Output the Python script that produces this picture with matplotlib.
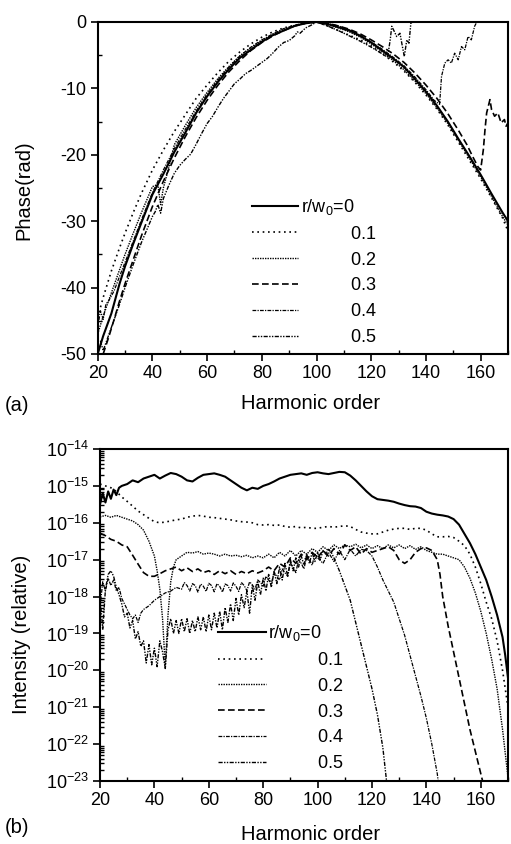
import numpy as np
import matplotlib
matplotlib.use("Agg")
import matplotlib.pyplot as plt
from matplotlib.ticker import MultipleLocator, LogLocator, NullFormatter

plt.rcParams['font.family'] = ['Liberation Sans', 'DejaVu Sans']
plt.rcParams['mathtext.fontset'] = 'custom'
plt.rcParams['mathtext.rm'] = 'Liberation Sans'
plt.rcParams['mathtext.it'] = 'Liberation Sans:italic'
plt.rcParams['mathtext.default'] = 'regular'
plt.rcParams['axes.unicode_minus'] = False

# ---------------- data: panel (a), phase (rad) ----------------
h_a0 = [20, 22, 25, 28, 30, 33, 36, 40, 44, 48, 52, 56, 60, 64, 68, 72, 76, 80, 84, 88, 92, 96, 100,
        104, 108, 112, 116, 120, 124, 128, 132, 136, 140, 144, 148, 152, 156, 160, 164, 168, 170]
ph_a0 = [-50.0, -47.3, -43.9, -39.4, -36.8, -33.4, -30.2, -26.0, -22.9, -19.6, -16.7, -13.7, -11.2, -9.0,
         -7.1, -5.4, -4.2, -3.0, -2.0, -1.3, -0.6, -0.2, 0.0,
         -0.3, -0.8, -1.3, -2.1, -3.1, -4.3, -5.5, -6.8, -8.6, -10.5, -12.6, -15.0, -17.7, -20.3, -23.0,
         -25.9, -28.7, -30.0]

h_a1 = [20, 22, 25, 28, 30, 33, 36, 40, 44, 48, 52, 56, 60, 64, 68, 72, 76, 80, 84, 88, 92, 96, 100,
        104, 108, 112, 116, 120, 124, 128, 132, 136, 140, 144, 148, 152, 156, 160, 164, 168, 170]
ph_a1 = [-44.5, -41.5, -37.5, -34.0, -31.8, -28.7, -25.8, -22.3, -19.3, -16.5, -14.0, -11.5, -9.5, -7.6,
         -5.9, -4.5, -3.3, -2.3, -1.5, -0.9, -0.5, -0.2, 0.0,
         -0.6, -1.3, -2.0, -2.7, -3.6, -4.8, -6.0, -7.4, -9.1, -11.0, -13.1, -15.5, -18.2, -20.9, -23.6,
         -26.5, -29.5, -31.5]

h_a2 = [20, 22, 25, 28, 30, 33, 36, 40, 42, 43, 44, 46, 48, 52, 56, 60, 64, 68, 72, 76, 80, 84, 88, 92, 96, 100,
        104, 108, 112, 116, 120, 124, 128, 132, 136, 140, 144, 148, 152, 156, 160, 164, 168, 170]
ph_a2 = [-47.0, -44.3, -40.8, -37.3, -35.0, -31.8, -28.7, -24.8, -24.5, -27.5, -25.0, -21.9, -18.5, -15.6,
         -12.9, -10.6, -8.5, -6.7, -5.1, -3.9, -2.8, -1.9, -1.2, -0.6, -0.2, 0.0,
         -0.4, -0.9, -1.5, -2.3, -3.3, -4.5, -5.8, -7.2, -8.9, -10.8, -12.9, -15.3, -17.9, -20.6, -23.3,
         -26.3, -29.3, -30.6]

h_a3 = [22, 24, 26, 28, 30, 33, 36, 40, 44, 48, 52, 56, 60, 64, 68, 72, 76, 80, 84, 88, 92, 96, 100,
        104, 108, 112, 116, 120, 124, 128, 132, 136, 140, 144, 148, 152, 155, 157, 159, 160, 161, 161.6,
        162.2, 162.8, 163.4, 164, 165.1, 166.3, 167.5, 168.7, 169.3, 170]
ph_a3 = [-50.0, -47.5, -44.8, -42.0, -39.4, -35.8, -32.2, -27.8, -24.0, -20.5, -17.3, -14.4, -11.8, -9.5,
         -7.5, -5.8, -4.3, -3.1, -2.1, -1.3, -0.6, -0.2, 0.0,
         -0.2, -0.6, -1.1, -1.8, -2.7, -3.7, -4.8, -6.1, -7.7, -9.5, -11.5, -13.8, -16.4, -18.5, -20.2,
         -21.8, -22.3, -19.2, -16.2, -13.7, -12.7, -11.7, -13.2, -14.2, -13.7, -15.2, -14.7, -15.7, -15.2]

h_a4 = [20, 21, 22, 23, 24, 26, 28, 30, 33, 36, 40, 44, 48, 52, 56, 60, 64, 68, 72, 76, 80, 84, 88, 92, 96, 100,
        104, 108, 112, 116, 120, 124, 128, 132, 136, 140, 143, 145, 145.7, 146.9, 148.1, 149.3, 150.5, 151.8,
        153, 154.2, 155.4, 156.6, 157.8, 159, 160]
ph_a4 = [-46.0, -43.5, -44.8, -42.5, -42.0, -40.5, -38.3, -36.2, -33.0, -29.8, -25.7, -22.3, -19.1, -16.2,
         -13.4, -10.9, -8.7, -6.8, -5.1, -3.8, -2.7, -1.8, -1.0, -0.5, -0.1, 0.0,
         -0.2, -0.6, -1.2, -2.0, -3.0, -4.1, -5.3, -6.6, -8.3, -10.2, -11.8, -12.4, -8.2, -6.2, -5.7, -6.2,
         -4.7, -5.7, -3.7, -4.2, -2.2, -2.7, -0.65, 0.3, 1.0]

h_a5 = [21, 22, 25, 28, 30, 33, 36, 40, 41, 42, 43, 44, 46, 48, 50, 52, 54, 56, 58, 60, 62, 64, 66, 68, 70,
        72, 74, 76, 78, 80, 82, 84, 86, 88, 90, 92, 93, 94, 96, 98, 100,
        104, 108, 112, 116, 120, 124, 126, 127, 127.5, 128.4, 129.3, 130.5, 131.4, 132.1, 133, 133.8, 134.5,
        135.3, 136]
ph_a5 = [-48.0, -49.5, -46.0, -42.5, -40.0, -36.5, -33.2, -29.3, -28.6, -27.5, -28.8, -26.6, -24.6, -22.8,
         -21.6, -20.7, -19.9, -18.4, -16.8, -15.3, -14.2, -12.8, -11.5, -10.4, -9.3, -8.6, -7.8, -7.3,
         -6.7, -6.1, -5.5, -4.7, -3.8, -3.1, -2.8, -2.1, -1.5, -1.7, -0.9, -0.5, 0.0,
         -0.6, -1.3, -2.1, -2.9, -3.8, -4.8, -5.3, -2.5, -0.65, -1.4, -2.2, -1.7, -3.7, -5.2, -2.7, -3.2,
         -0.15, 0.0, 1.0]

# ---------------- data: panel (b), log10 of relative intensity ----------------
h_b0 = [20, 21, 22, 23, 24, 25, 26, 27, 28, 30, 32, 34, 36, 38, 40, 42, 44, 46, 48, 50, 52, 54, 56, 58, 60,
        62, 64, 66, 68, 70, 72, 74, 76, 78, 80, 82, 84, 86, 88, 90, 92, 94, 96, 98, 100, 102, 104, 106, 108,
        110, 112, 114, 116, 118, 120, 122, 124, 126, 128, 130, 132, 134, 136, 138, 140, 142, 144, 146, 148,
        150, 152, 154, 156, 158, 160, 162, 164, 166, 168, 169, 170]
lg_b0 = [-15.5, -15.2, -15.45, -15.15, -15.35, -15.1, -15.25, -15.05, -15.0, -14.95, -14.85, -14.9, -14.8,
         -14.75, -14.7, -14.8, -14.72, -14.65, -14.68, -14.75, -14.85, -14.88, -14.78, -14.7, -14.68,
         -14.66, -14.7, -14.75, -14.85, -14.95, -15.05, -15.12, -15.05, -15.08, -15.0, -14.95, -14.88,
         -14.8, -14.75, -14.7, -14.68, -14.66, -14.7, -14.65, -14.63, -14.66, -14.68, -14.65, -14.62,
         -14.63, -14.72, -14.85, -15.0, -15.15, -15.28, -15.36, -15.38, -15.4, -15.43, -15.48, -15.52,
         -15.55, -15.56, -15.6, -15.7, -15.75, -15.78, -15.8, -15.83, -15.9, -16.05, -16.3, -16.55, -16.85,
         -17.2, -17.55, -18.0, -18.5, -19.1, -19.6, -20.2]

h_b1 = list(range(20, 171, 2))
lg_b1 = [-14.95, -15.0, -15.05, -15.15, -15.3, -15.42, -15.55, -15.68, -15.78, -15.88, -15.97, -16.0,
         -15.98, -15.95, -15.92, -15.9, -15.85, -15.82, -15.8, -15.82, -15.85, -15.86, -15.88, -15.9,
         -15.92, -15.95, -15.97, -15.98, -16.0, -16.05, -16.06, -16.05, -16.07, -16.06, -16.1, -16.12,
         -16.1, -16.14, -16.12, -16.15, -16.15, -16.12, -16.1, -16.12, -16.1, -16.08, -16.1, -16.18,
         -16.25, -16.28, -16.3, -16.3, -16.25, -16.2, -16.17, -16.15, -16.15, -16.18, -16.15, -16.15,
         -16.2, -16.3, -16.38, -16.38, -16.37, -16.4, -16.5, -16.62, -16.85, -17.2, -17.65, -18.15,
         -18.6, -19.2, -20.0, -21.0]

h_b2 = [20, 22, 24, 26, 28, 30, 32, 34, 36, 38, 40, 41, 42, 43, 44, 45, 46, 47, 48] + list(range(50, 171, 2))
lg_b2 = [-15.84, -15.8, -15.85, -15.8, -15.85, -15.9, -15.95, -16.05, -16.2, -16.5, -16.9, -17.3, -17.8,
         -18.6, -19.9, -18.5, -17.6, -17.2, -17.0,
         -16.9, -16.8, -16.82, -16.78, -16.85, -16.82, -16.85, -16.9, -16.85, -16.9, -16.88, -16.92,
         -16.88, -16.95, -16.9, -16.95, -16.85, -16.95, -16.8, -16.9, -16.75, -16.9, -16.75, -16.85, -16.7,
         -16.8, -16.65, -16.75, -16.6, -16.7, -16.6, -16.65, -16.58, -16.68, -16.6, -16.7, -16.62, -16.7,
         -16.6, -16.68, -16.6, -16.7, -16.62, -16.72, -16.65, -16.75, -16.8, -16.85, -16.85, -16.9, -16.95,
         -17.0, -17.2, -17.5, -17.9, -18.4, -19.0, -19.7, -20.5, -21.6, -22.9]

h_b3 = list(range(20, 145, 2)) + [145, 146, 148, 150, 152, 154, 156, 158, 160, 161]
lg_b3 = [-16.28, -16.35, -16.45, -16.5, -16.6, -16.65, -16.88, -17.12, -17.35, -17.45, -17.45, -17.38,
         -17.3, -17.25, -17.2, -17.3, -17.22, -17.32, -17.25, -17.35, -17.3, -17.4, -17.3, -17.38, -17.3,
         -17.4, -17.32, -17.38, -17.3, -17.36, -17.3, -17.2, -17.3, -17.1, -17.2, -16.95, -17.1, -16.85,
         -17.0, -16.8, -16.95, -16.75, -16.9, -16.7, -16.85, -16.6, -16.75, -16.65, -16.85, -16.7, -16.8,
         -16.75, -16.7, -16.65, -16.75, -17.0, -17.1, -17.0, -16.8, -16.7, -16.68, -16.75, -17.0,
         -17.4, -18.0, -18.8, -19.5, -20.2, -20.9, -21.6, -22.2, -22.8, -23.1]

h_b4 = list(range(20, 37)) + [38, 40, 42, 44, 46, 48] + list(range(50, 101)) + \
       [102, 104, 106, 108, 110, 112, 114, 116, 118, 120, 122, 124, 126, 128, 130, 132, 134, 136, 138, 140,
        142, 144, 144.5]
lg_b4 = [-18.3, -17.6, -17.85, -17.5, -17.7, -17.55, -17.85, -17.75, -18.05, -18.2, -18.35, -18.5, -18.6,
         -18.5, -18.7, -18.45, -18.35,
         -18.25, -18.1, -18.0, -17.9, -17.85, -17.75,
         -17.8, -17.62, -17.7, -17.85, -17.65, -17.7, -17.88, -17.66, -17.72, -17.86, -17.64, -17.7, -17.87,
         -17.65, -17.72, -17.88, -17.66, -17.7, -17.85, -17.63, -17.72, -17.86, -17.62, -17.7, -17.84,
         -17.6, -17.68, -17.8, -17.55, -17.62, -17.72, -17.45, -17.55, -17.65, -17.35, -17.45, -17.55,
         -17.25, -17.35, -17.45, -17.1, -17.2, -17.35, -17.0, -17.1, -17.25, -16.9, -17.0, -17.15, -16.85,
         -16.95,
         -17.1, -16.8, -17.05, -16.75, -17.0, -16.72, -16.9, -16.72, -16.75, -16.9, -17.2, -17.55, -17.85,
         -18.15, -18.6, -19.05, -19.6, -20.15, -20.7, -21.3, -22.0, -22.8, -23.1]

h_b5 = list(range(20, 106)) + [106, 108, 110, 112, 114, 116, 118, 120, 122, 124, 125.5]
lg_b5 = [-18.0, -18.9, -17.8, -17.4, -17.3, -17.45, -17.75, -17.95, -18.2, -18.55, -18.45, -18.85, -18.65,
         -19.15, -18.95, -19.35, -19.2, -19.8, -19.3, -19.85, -19.4, -19.9, -19.2, -19.5, -19.95, -18.9,
         -18.6, -19.0, -18.65, -19.0, -18.6, -18.95, -18.6, -19.0, -18.65, -18.95, -18.55, -18.9, -18.55,
         -18.95, -18.5, -18.9, -18.45, -18.85, -18.4, -18.9, -18.3, -18.7, -18.2, -18.65, -18.05, -18.5,
         -17.95, -18.3, -17.85, -18.45, -17.7, -18.1, -17.6, -17.95, -17.5, -17.85, -17.4, -17.75, -17.3,
         -17.65, -17.2, -17.55, -17.1, -17.45, -17.0, -17.3, -16.95, -17.2, -16.9, -17.15, -16.85, -17.1,
         -16.8, -17.05, -16.8, -17.0, -16.75, -16.85, -16.72, -16.8,
         -16.95, -17.3, -17.7, -18.1, -18.7, -19.3, -19.9, -20.5, -21.2, -22.1, -23.1]

labels = ["r/w$_0$=0", "          0.1", "          0.2", "          0.3", "          0.4", "          0.5"]
styles = ['-', (0, (1, 2.2)), (0, (1, 0.8)), (0, (4, 2)), (0, (3, 1, 1, 1)), (0, (3, 1, 1, 1, 1, 1))]
widths = [1.5, 1.2, 1.0, 1.2, 0.9, 1.0]

fig = plt.figure(figsize=(5.11, 8.44), dpi=100)
ax1 = fig.add_axes([0.1912, 0.5806, 0.8029, 0.3934])
ax2 = fig.add_axes([0.1957, 0.0746, 0.7984, 0.3934])

phase_h = [h_a0, h_a1, h_a2, h_a3, h_a4, h_a5]
phase_v = [ph_a0, ph_a1, ph_a2, ph_a3, ph_a4, ph_a5]
for hh, vv, lab, ls, lw in zip(phase_h, phase_v, labels, styles, widths):
    ax1.plot(hh, vv, color='black', linestyle=ls, linewidth=lw, label=lab)

int_h = [h_b0, h_b1, h_b2, h_b3, h_b4, h_b5]
int_v = [lg_b0, lg_b1, lg_b2, lg_b3, lg_b4, lg_b5]
for hh, vv, lab, ls, lw in zip(int_h, int_v, labels, styles, widths):
    ax2.plot(hh, 10.0 ** np.array(vv), color='black', linestyle=ls, linewidth=lw, label=lab)

ax1.set_xlim(20, 170)
ax1.set_ylim(-50, 0)
ax1.xaxis.set_major_locator(MultipleLocator(20))
ax1.xaxis.set_minor_locator(MultipleLocator(10))
ax1.yaxis.set_major_locator(MultipleLocator(10))
ax1.yaxis.set_minor_locator(MultipleLocator(5))

ax2.set_yscale('log')
ax2.set_xlim(20, 170)
ax2.set_ylim(1e-23, 1e-14)
ax2.xaxis.set_major_locator(MultipleLocator(20))
ax2.xaxis.set_minor_locator(MultipleLocator(10))
ax2.yaxis.set_major_locator(LogLocator(base=10, numticks=20))
ax2.yaxis.set_minor_locator(LogLocator(base=10, subs=np.arange(2, 10), numticks=20))
ax2.yaxis.set_minor_formatter(NullFormatter())

for ax in (ax1, ax2):
    ax.tick_params(which='major', direction='out', length=5, width=1.2, labelsize=13, pad=3,
                   top=False, right=False)
    ax.tick_params(which='minor', direction='in', length=3, width=1.0, top=False, right=False)
    for sp in ax.spines.values():
        sp.set_linewidth(1.5)

leg1 = ax1.legend(loc='upper left', bbox_to_anchor=(0.376, 0.473), frameon=False, fontsize=13,
                  handlelength=2.55, handletextpad=0.15, borderpad=0, borderaxespad=0, labelspacing=0.49)
leg2 = ax2.legend(loc='upper left', bbox_to_anchor=(0.289, 0.476), frameon=False, fontsize=13,
                  handlelength=2.65, handletextpad=0.15, borderpad=0, borderaxespad=0, labelspacing=0.49)

fig.text(0.047, 0.775, "Phase(rad)", rotation=90, ha='center', va='center', fontsize=14.5)
fig.text(0.607, 0.522, "Harmonic order", ha='center', va='center', fontsize=14.5)
fig.text(0.01, 0.520, "(a)", ha='left', va='center', fontsize=14.5)

fig.text(0.043, 0.248, "Intensity (relative)", rotation=90, ha='center', va='center', fontsize=14.5)
fig.text(0.607, 0.011, "Harmonic order", ha='center', va='center', fontsize=14.5)
fig.text(0.01, 0.020, "(b)", ha='left', va='center', fontsize=14.5)

fig.savefig("out.png", dpi=100)
